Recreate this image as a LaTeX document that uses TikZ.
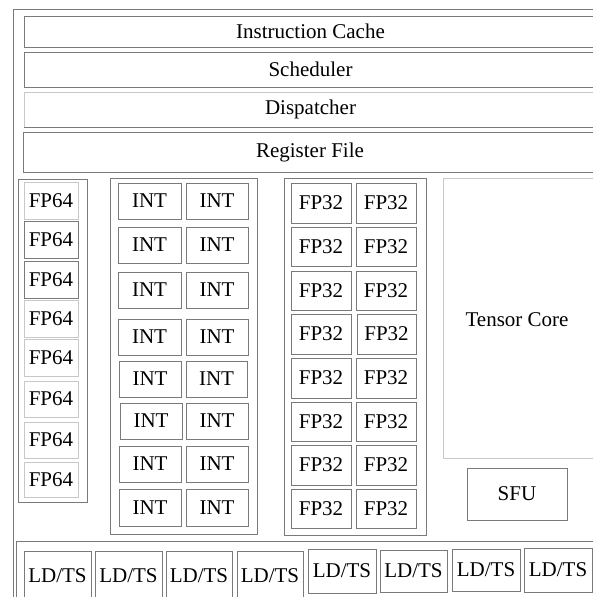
\documentclass[tikz,border=0pt]{standalone}
\usepackage{fontspec}
\setmainfont{Liberation Serif}
\usepackage{tikz}

\definecolor{edge}{HTML}{7A7A7A}
\definecolor{faint}{HTML}{C8C8C8}
\tikzset{
  unit/.style={draw=edge,line width=0.8pt},
  pale/.style={draw=faint,line width=0.8pt},
}

\begin{document}
\begin{tikzpicture}[x=1pt,y=-1pt,font=\fontsize{21}{25}\selectfont]
\clip (0,0) rectangle (593,597);
% SM frame
\draw[unit] (13,9) rectangle (620,620);

% front end
\draw[unit] (24,16) rectangle node (icache) {Instruction Cache} (597,47);
\draw[unit] (24,52) rectangle node (sched) {Scheduler} (597,87);
\draw[pale] (24,92) rectangle node (disp) {Dispatcher} (597,127);
\draw[edge,line width=0.8pt] (24,127) -- (597,127);
\draw[unit] (23,132) rectangle node (regfile) {Register File} (597,172);

% FP64 column
\draw[unit] (18,179) rectangle (87,502);
\draw[pale] (24,182) rectangle node (d1) {FP64} (78,219);
\draw[unit] (24,221) rectangle node (d2) {FP64} (78,258);
\draw[unit] (24,261) rectangle node (d3) {FP64} (78,298);
\draw[pale] (24,300) rectangle node (d4) {FP64} (78,337);
\draw[pale] (24,339) rectangle node (d5) {FP64} (78,376);
\draw[pale] (24,381) rectangle node (d6) {FP64} (78,417);
\draw[pale] (24,422) rectangle node (d7) {FP64} (78,458);
\draw[pale] (24,462) rectangle node (d8) {FP64} (78,497);

% INT block
\draw[unit] (110,178) rectangle (257,534);
\draw[unit] (118,183) rectangle node (i1a) {INT} (181,219);
\draw[unit] (186,183) rectangle node (i1b) {INT} (248,219);
\draw[unit] (118,227) rectangle node (i2a) {INT} (181,263);
\draw[unit] (186,227) rectangle node (i2b) {INT} (248,263);
\draw[unit] (118,272) rectangle node (i3a) {INT} (181,308);
\draw[unit] (186,272) rectangle node (i3b) {INT} (248,308);
\draw[unit] (118,319) rectangle node (i4a) {INT} (181,355);
\draw[unit] (186,319) rectangle node (i4b) {INT} (248,355);
\draw[unit] (119,361) rectangle node (i5a) {INT} (181,397);
\draw[unit] (186,361) rectangle node (i5b) {INT} (247,397);
\draw[unit] (120,403) rectangle node (i6a) {INT} (182,439);
\draw[unit] (186,403) rectangle node (i6b) {INT} (248,439);
\draw[unit] (119,446) rectangle node (i7a) {INT} (181,482);
\draw[unit] (186,446) rectangle node (i7b) {INT} (248,482);
\draw[unit] (119,489) rectangle node (i8a) {INT} (181,526);
\draw[unit] (186,489) rectangle node (i8b) {INT} (248,526);

% FP32 block
\draw[unit] (284,178) rectangle (426,535);
\draw[unit] (291,183) rectangle node (f1a) {FP32} (351,223);
\draw[unit] (356,183) rectangle node (f1b) {FP32} (416,223);
\draw[unit] (291,227) rectangle node (f2a) {FP32} (351,266);
\draw[unit] (356,227) rectangle node (f2b) {FP32} (416,266);
\draw[unit] (291,271) rectangle node (f3a) {FP32} (351,310);
\draw[unit] (356,271) rectangle node (f3b) {FP32} (416,310);
\draw[unit] (291,314) rectangle node (f4a) {FP32} (351,354);
\draw[unit] (357,314) rectangle node (f4b) {FP32} (416,354);
\draw[unit] (291,358) rectangle node (f5a) {FP32} (351,398);
\draw[unit] (356,358) rectangle node (f5b) {FP32} (416,398);
\draw[unit] (291,402) rectangle node (f6a) {FP32} (351,441);
\draw[unit] (356,402) rectangle node (f6b) {FP32} (416,441);
\draw[unit] (291,445) rectangle node (f7a) {FP32} (351,485);
\draw[unit] (356,445) rectangle node (f7b) {FP32} (416,485);
\draw[unit] (291,489) rectangle node (f8a) {FP32} (351,528);
\draw[unit] (356,489) rectangle node (f8b) {FP32} (416,528);

% Tensor Core and SFU
\draw[pale] (443,178) rectangle (620,458);
\node (tensor) at (517,320) {Tensor Core};
\draw[unit] (467,468) rectangle node (sfu) {SFU} (567,520);

% load/store row
\draw[unit] (16,541) rectangle (620,620);
\draw[unit] (24,551) rectangle node (ls1) {LD/TS} (91,600);
\draw[unit] (95,551) rectangle node (ls2) {LD/TS} (162,600);
\draw[unit] (166,551) rectangle node (ls3) {LD/TS} (232,600);
\draw[unit] (237,551) rectangle node (ls4) {LD/TS} (303,600);
\draw[unit] (308,549) rectangle node (ls5) {LD/TS} (376,593);
\draw[unit] (380,550) rectangle node (ls6) {LD/TS} (447,592);
\draw[unit] (452,549) rectangle node (ls7) {LD/TS} (520,591);
\draw[unit] (524,548) rectangle node (ls8) {LD/TS} (592,592);

\end{tikzpicture}
\end{document}
